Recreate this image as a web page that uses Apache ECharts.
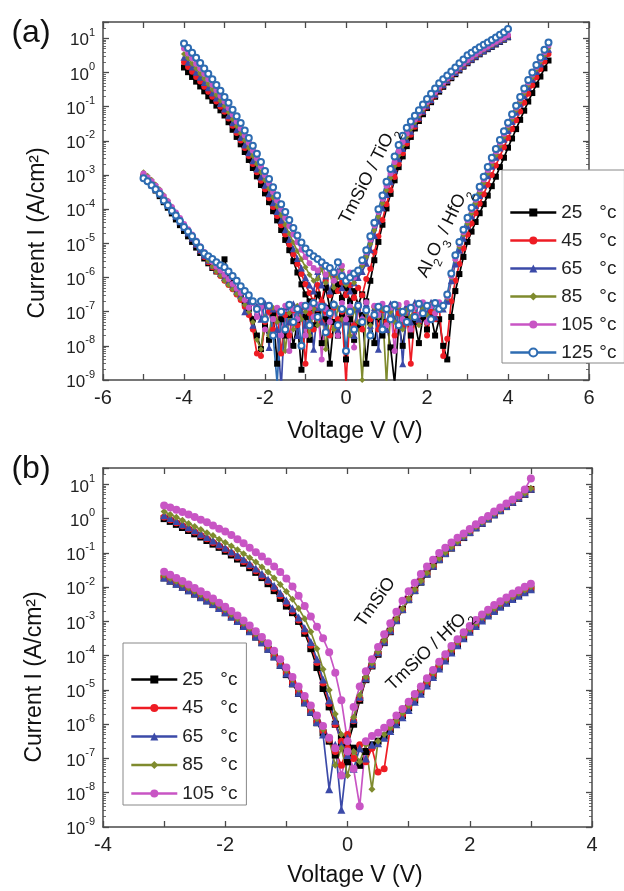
<!DOCTYPE html>
<html>
<head>
<meta charset="utf-8">
<script src="https://cdn.jsdelivr.net/npm/echarts@6/dist/echarts.min.js"></script>
<style>html,body{margin:0;padding:0;background:#fff;}#c{width:624px;height:891px;}</style>
</head>
<body>
<div id="c"></div>
<script>
// ---------- categories / legend ----------
const TEMPS = ['25 °c','45 °c','65 °c','85 °c','105 °c','125 °c'];
const X_TICKS_A = [-6,-4,-2,0,2,4,6];
const X_TICKS_B = [-4,-2,0,2,4];

// ---------- voltages ----------
const V_TI = [-4,-3.9,-3.8,-3.7,-3.6,-3.5,-3.4,-3.3,-3.2,-3.1,-3,-2.9,-2.8,-2.7,-2.6,-2.5,-2.4,-2.3,-2.2,-2.1,-2,-1.9,-1.8,-1.7,-1.6,-1.5,-1.4,-1.3,-1.2,-1.1,-1,-0.9,-0.8,-0.7,-0.6,-0.5,-0.4,-0.3,-0.2,-0.1,0,0.1,0.2,0.3,0.4,0.5,0.6,0.7,0.8,0.9,1,1.1,1.2,1.3,1.4,1.5,1.6,1.7,1.8,1.9,2,2.1,2.2,2.3,2.4,2.5,2.6,2.7,2.8,2.9,3,3.1,3.2,3.3,3.4,3.5,3.6,3.7,3.8,3.9,4];
const V_AH = [-5,-4.9,-4.8,-4.7,-4.6,-4.5,-4.4,-4.3,-4.2,-4.1,-4,-3.9,-3.8,-3.7,-3.6,-3.5,-3.4,-3.3,-3.2,-3.1,-3,-2.9,-2.8,-2.7,-2.6,-2.5,-2.4,-2.3,-2.2,-2.1,-2,-1.9,-1.8,-1.7,-1.6,-1.5,-1.4,-1.3,-1.2,-1.1,-1,-0.9,-0.8,-0.7,-0.6,-0.5,-0.4,-0.3,-0.2,-0.1,0,0.1,0.2,0.3,0.4,0.5,0.6,0.7,0.8,0.9,1,1.1,1.2,1.3,1.4,1.5,1.6,1.7,1.8,1.9,2,2.1,2.2,2.3,2.4,2.5,2.6,2.7,2.8,2.9,3,3.1,3.2,3.3,3.4,3.5,3.6,3.7,3.8,3.9,4,4.1,4.2,4.3,4.4,4.5,4.6,4.7,4.8,4.9,5];
const V_B = [-3,-2.9,-2.8,-2.7,-2.6,-2.5,-2.4,-2.3,-2.2,-2.1,-2,-1.9,-1.8,-1.7,-1.6,-1.5,-1.4,-1.3,-1.2,-1.1,-1,-0.9,-0.8,-0.7,-0.6,-0.5,-0.4,-0.3,-0.2,-0.1,0,0.1,0.2,0.3,0.4,0.5,0.6,0.7,0.8,0.9,1,1.1,1.2,1.3,1.4,1.5,1.6,1.7,1.8,1.9,2,2.1,2.2,2.3,2.4,2.5,2.6,2.7,2.8,2.9,3];

// ---------- panel (a): TmSiO / TiO2 (A/cm2) ----------
const TI_25 = [1.4,1.02,0.74,0.54,0.39,0.28,0.2,0.148,0.107,0.078,0.055,0.035,0.021,0.013,7.9e-3,4.7e-3,2.75e-3,1.6e-3,9.1e-4,5.1e-4,2.9e-4,1.6e-4,8.7e-5,4.7e-5,2.45e-5,1.26e-5,6.3e-6,3e-6,1.4e-6,6.3e-7,3.2e-7,2e-7,1.3e-7,3.2e-7,1.6e-7,5e-7,1.3e-7,4e-7,6.3e-7,2.5e-7,5e-7,2e-7,4e-7,1.6e-7,3.2e-7,2e-7,8e-7,3.2e-6,1.1e-5,3.5e-5,1.05e-4,2.8e-4,7e-4,1.7e-3,3.5e-3,7e-3,0.013,0.023,0.038,0.06,0.091,0.135,0.195,0.275,0.38,0.51,0.68,0.89,1.15,1.48,1.86,2.3,2.8,3.4,4.1,4.8,5.6,6.6,7.8,9.1,10.7];
const TI_45 = [2.0,1.45,1.05,0.74,0.54,0.38,0.275,0.195,0.141,0.1,0.071,0.045,0.0275,0.017,0.0102,6.2e-3,3.6e-3,2.1e-3,1.2e-3,6.8e-4,3.8e-4,2.1e-4,1.15e-4,6.3e-5,3.4e-5,1.8e-5,9.3e-6,4.8e-6,2.5e-6,1.26e-6,6.3e-7,3.5e-7,2e-7,6e-7,2e-7,8e-7,3e-7,1.2e-6,4e-7,7e-7,3e-7,6e-7,2.5e-7,5e-7,3e-7,9e-7,1.8e-6,5.5e-6,1.6e-5,4.8e-5,1.4e-4,3.6e-4,8.8e-4,2.1e-3,4.3e-3,8.3e-3,0.015,0.026,0.043,0.068,0.1,0.15,0.21,0.3,0.41,0.55,0.73,0.95,1.22,1.55,1.95,2.4,2.95,3.6,4.3,5.1,6,7,8.2,9.6,11.2];
const TI_65 = [2.8,2.0,1.45,1.02,0.72,0.51,0.36,0.25,0.178,0.123,0.085,0.054,0.034,0.021,0.0126,7.6e-3,4.5e-3,2.6e-3,1.5e-3,8.7e-4,5e-4,2.8e-4,1.55e-4,8.5e-5,4.7e-5,2.5e-5,1.3e-5,6.9e-6,3.6e-6,1.9e-6,1e-6,6e-7,4e-7,1.5e-6,6e-7,1.1e-6,4e-7,9e-7,1.6e-6,5e-7,8e-7,4e-7,7e-7,1e-6,1.5e-6,2.6e-6,6.5e-6,1.7e-5,4.5e-5,1.1e-4,2.7e-4,6.3e-4,1.4e-3,3e-3,6e-3,0.011,0.019,0.031,0.049,0.075,0.11,0.16,0.23,0.32,0.44,0.59,0.77,1.0,1.28,1.62,2.05,2.5,3.05,3.7,4.4,5.2,6.1,7.2,8.4,9.8,11.5];
const TI_85 = [3.5,2.6,1.8,1.3,0.91,0.65,0.45,0.32,0.22,0.15,0.105,0.068,0.043,0.027,0.0166,0.0102,6.2e-3,3.6e-3,2.1e-3,1.2e-3,7e-4,4e-4,2.2e-4,1.2e-4,6.6e-5,3.5e-5,1.9e-5,1.05e-5,5.9e-6,3.4e-6,2e-6,1.2e-6,8e-7,9e-7,1.8e-6,7e-7,1.3e-6,5e-7,1e-6,1.7e-6,6e-7,1.1e-6,7e-7,1.4e-6,2.2e-6,4e-6,9.5e-6,2.4e-5,6e-5,1.5e-4,3.6e-4,8.2e-4,1.8e-3,3.7e-3,7.2e-3,0.013,0.022,0.035,0.055,0.083,0.12,0.175,0.25,0.35,0.47,0.63,0.82,1.06,1.36,1.72,2.15,2.65,3.2,3.85,4.6,5.4,6.3,7.4,8.6,10,11.8];
const TI_105 = [5,3.6,2.6,1.8,1.3,0.91,0.63,0.44,0.3,0.21,0.141,0.091,0.059,0.037,0.023,0.0145,8.9e-3,5.2e-3,3.1e-3,1.8e-3,1e-3,5.6e-4,3.2e-4,1.8e-4,1e-4,5.6e-5,3.2e-5,1.8e-5,1.07e-5,6.5e-6,4e-6,2.6e-6,1.9e-6,1.6e-6,2.4e-6,1.2e-6,1.9e-6,8e-7,1.4e-6,2.2e-6,9e-7,1.4e-6,1e-6,1.6e-6,2.8e-6,5.5e-6,1.3e-5,3.3e-5,8.3e-5,2e-4,4.8e-4,1.1e-3,2.4e-3,4.9e-3,9.3e-3,0.0165,0.027,0.042,0.064,0.095,0.137,0.195,0.27,0.38,0.51,0.68,0.89,1.15,1.47,1.85,2.3,2.85,3.45,4.15,4.95,5.8,6.8,7.9,9.2,10.7,12.4];
const TI_125 = [7,5.2,3.8,2.7,1.9,1.3,0.91,0.63,0.43,0.29,0.19,0.13,0.081,0.052,0.033,0.02,0.012,7.2e-3,4.2e-3,2.4e-3,1.3e-3,7.6e-4,4.4e-4,2.5e-4,1.4e-4,8.3e-5,4.8e-5,2.8e-5,1.7e-5,1.05e-5,7e-6,5.2e-6,4.2e-6,3.5e-6,2.8e-6,2.2e-6,1.9e-6,1.4e-6,2.8e-6,1.1e-6,8e-7,1e-6,1.3e-6,1.6e-6,3.2e-6,6.3e-6,1.6e-5,4e-5,1e-4,2.5e-4,6.3e-4,1.5e-3,3.5e-3,7.6e-3,0.014,0.024,0.037,0.054,0.079,0.115,0.166,0.24,0.34,0.48,0.63,0.81,1.07,1.4,1.86,2.4,3.2,3.8,4.6,5.5,6.5,7.6,8.9,10.5,12.6,15,18.6];

// ---------- panel (a): Al2O3 / HfO2 (A/cm2) ----------
const AH_25 = [9e-4,7e-4,5e-4,3.5e-4,2.4e-4,1.6e-4,1.1e-4,7.5e-5,5e-5,3.4e-5,2.3e-5,1.6e-5,1.1e-5,7.5e-6,5.2e-6,3.6e-6,2.6e-6,1.9e-6,1.5e-6,2.2e-6,3.4e-6,1.2e-6,7e-7,4.5e-7,2.8e-7,1.8e-7,1.2e-7,6e-8,2e-8,8e-9,4e-8,1.5e-8,9e-8,3e-9,6e-8,2e-8,8e-8,1e-8,5e-8,2e-9,7e-8,1.5e-8,4e-8,9e-8,1.2e-8,6e-8,3e-9,5e-8,2e-8,8e-8,4e-9,6e-8,1.5e-8,4e-8,8e-8,3e-9,5e-8,1.2e-8,7e-8,2e-8,5e-8,9e-9,8e-10,4e-8,1e-8,6e-8,2e-8,5e-8,1.2e-8,7e-8,3e-8,8e-8,2e-8,6e-8,1e-8,4e-9,7e-8,4e-7,1.26e-6,4e-6,1.1e-5,2.2e-5,4.2e-5,7.6e-5,1.4e-4,2.5e-4,4.7e-4,8.9e-4,1.7e-3,3.2e-3,6.3e-3,0.0117,0.022,0.041,0.076,0.141,0.25,0.44,0.76,1.32,2.24];
const AH_45 = [1e-3,7.8e-4,5.8e-4,4.2e-4,3e-4,2e-4,1.4e-4,9.5e-5,6.5e-5,4.4e-5,3e-5,2e-5,1.35e-5,9e-6,6e-6,4e-6,2.8e-6,2e-6,1.5e-6,1.1e-6,8e-7,6e-7,4.5e-7,3.2e-7,2.2e-7,1.4e-7,8e-8,3e-8,6e-9,5e-9,5e-8,1e-7,3e-8,1.2e-7,6e-9,8e-8,2e-8,1.1e-7,4e-8,1.3e-7,3e-9,9e-8,3e-8,1.2e-7,5e-8,1e-7,2e-8,1.3e-7,6e-8,1e-7,8e-10,9e-8,4e-8,1.2e-7,3e-8,1e-7,6e-8,1.4e-7,3e-8,1.1e-7,5e-8,1.3e-7,2e-8,9e-8,4e-8,1.2e-7,3e-9,8e-8,5e-8,1.3e-7,2e-8,1e-7,6e-8,1.5e-7,5e-9,1.6e-8,2e-7,8e-7,2.5e-6,7e-6,1.8e-5,3.8e-5,7.6e-5,1.45e-4,2.75e-4,5.2e-4,1e-3,1.9e-3,3.5e-3,6.5e-3,0.012,0.022,0.04,0.072,0.13,0.24,0.42,0.72,1.26,2.1,3.5];
const AH_65 = [9e-4,7e-4,5.2e-4,3.9e-4,2.8e-4,1.9e-4,1.3e-4,9e-5,6.2e-5,4.3e-5,2.9e-5,2e-5,1.4e-5,9.5e-6,6.5e-6,4.5e-6,3.2e-6,2.3e-6,1.7e-6,1.3e-6,1e-6,7.5e-7,5.5e-7,4e-7,3e-7,1e-7,2e-7,4e-8,1.5e-7,6e-8,1.8e-7,9e-9,1.2e-7,3e-8,6e-10,1.4e-7,5e-8,1.7e-7,2e-8,1.1e-7,4e-8,1.6e-7,8e-9,1.3e-7,5e-8,1.5e-7,6e-8,1.8e-7,3e-8,1.4e-7,5e-8,1.6e-7,2e-8,1.2e-7,7e-8,1.7e-7,4e-8,1.3e-7,8e-9,1.5e-7,3e-8,1.7e-7,6e-8,1.4e-7,3e-9,1.6e-7,5e-8,1.9e-7,6e-8,1.5e-7,9e-8,1.9e-7,7e-8,1.6e-7,1.2e-7,2e-7,8e-7,2.5e-6,6.3e-6,1.4e-5,3.2e-5,6.3e-5,1.26e-4,2.5e-4,5e-4,9.5e-4,1.8e-3,3.3e-3,6.2e-3,0.0112,0.02,0.037,0.068,0.12,0.21,0.37,0.63,1.07,1.78,2.95,4.8];
const AH_85 = [1.2e-3,9.5e-4,7.2e-4,5.3e-4,3.8e-4,2.6e-4,1.8e-4,1.2e-4,8e-5,5.4e-5,3.6e-5,2.4e-5,1.6e-5,1.05e-5,7e-6,4.6e-6,3.1e-6,2.1e-6,1.5e-6,1.1e-6,8e-7,6e-7,4.5e-7,3.3e-7,2.4e-7,1.6e-7,1e-7,5e-8,1.5e-8,8e-9,7e-8,2e-8,1.3e-7,5e-8,1.1e-7,7e-9,9e-8,3e-8,1.5e-7,6e-8,1e-7,2e-8,1.2e-7,4e-8,1.4e-7,8e-9,1e-7,3e-8,1.3e-7,6e-8,1.1e-7,2e-8,1.2e-7,5e-8,1e-9,9e-8,4e-8,1.3e-7,7e-8,1.2e-7,8e-10,1e-7,5e-8,1.4e-7,3e-8,1.1e-7,7e-8,1.5e-7,4e-8,1.2e-7,8e-8,1.6e-7,1e-7,1.8e-7,1.3e-7,2.5e-7,1e-6,3.2e-6,8e-6,1.8e-5,3.8e-5,7.6e-5,1.5e-4,2.95e-4,5.8e-4,1.1e-3,2e-3,3.8e-3,7e-3,0.0129,0.0234,0.043,0.078,0.138,0.245,0.43,0.72,1.23,2.05,3.3,5.2];
const AH_105 = [1.1e-3,8.5e-4,6.5e-4,4.8e-4,3.5e-4,2.4e-4,1.7e-4,1.15e-4,8e-5,5.5e-5,3.7e-5,2.6e-5,1.8e-5,1.2e-5,8.2e-6,5.6e-6,4e-6,2.9e-6,2.1e-6,1.6e-6,1.2e-6,9e-7,6.5e-7,4.8e-7,3.5e-7,2.2e-7,1.3e-7,1.8e-7,7e-8,1.4e-7,3e-8,1.6e-7,6e-8,1.3e-7,2e-8,1.5e-7,7e-9,1.2e-7,6e-8,1.6e-7,2e-8,1.3e-7,7e-8,1.6e-7,4e-9,1.2e-7,5e-8,1.5e-7,2e-8,1.8e-7,6e-8,1.4e-7,9e-9,1.6e-7,6e-8,1.9e-7,2e-8,1.5e-7,8e-8,1.7e-7,4e-8,1.3e-7,7e-9,1.6e-7,6e-8,1.8e-7,3e-8,1.4e-7,8e-8,1.9e-7,5e-8,1.5e-7,9e-8,1.9e-7,1.5e-7,2.8e-7,1.1e-6,3.5e-6,9.5e-6,2.1e-5,4.7e-5,9.5e-5,1.9e-4,3.8e-4,7.4e-4,1.4e-3,2.6e-3,4.9e-3,8.9e-3,0.0162,0.0295,0.052,0.093,0.166,0.295,0.51,0.87,1.45,2.4,3.9,6.3];
const AH_125 = [8e-4,6.5e-4,5e-4,3.8e-4,2.8e-4,1.8e-4,1.3e-4,9e-5,6.5e-5,4.5e-5,3e-5,2.2e-5,1.6e-5,1.1e-5,7.5e-6,5e-6,4.2e-6,3.5e-6,2.8e-6,2.3e-6,2e-6,1.5e-6,1.1e-6,8e-7,5.5e-7,4e-7,3e-7,2e-7,1.2e-7,2e-7,6e-8,1.5e-7,2e-8,8e-10,1e-7,3e-8,1.6e-7,5e-8,1.2e-7,1e-8,1.5e-7,4e-8,1.8e-7,7e-8,1.4e-7,2.5e-8,9e-8,1.6e-7,4e-8,1.2e-7,7e-9,1e-7,3e-8,1.5e-7,5e-8,1.1e-7,2e-8,8e-8,1.4e-7,3e-8,1.2e-7,6e-8,1.6e-7,4e-8,1e-7,5e-8,1.3e-7,7e-8,1.7e-7,9e-8,1.5e-7,6e-8,1.8e-7,1.2e-7,1.5e-7,3.2e-7,1.3e-6,4.5e-6,1.1e-5,2.5e-5,5.6e-5,1.1e-4,2.2e-4,4.5e-4,8.9e-4,1.7e-3,3.2e-3,5.8e-3,0.0105,0.019,0.034,0.06,0.107,0.19,0.34,0.6,1.0,1.66,2.75,4.6,7.6];

// ---------- panel (b): TmSiO (upper) ----------
const UB_25 = [1.0,0.83,0.68,0.55,0.45,0.36,0.29,0.23,0.18,0.145,0.112,0.087,0.066,0.05,0.037,0.027,0.019,0.0126,7.9e-3,4.7e-3,2.8e-3,1.8e-3,1e-3,4.5e-4,1.6e-4,4.5e-5,1.1e-5,3.2e-6,1e-6,4e-7,2.5e-7,1e-6,5e-6,2e-5,5e-5,1.1e-4,2.4e-4,5e-4,1.05e-3,2.2e-3,4.3e-3,7.9e-3,0.014,0.024,0.04,0.063,0.095,0.138,0.2,0.28,0.39,0.54,0.72,0.98,1.29,1.7,2.24,2.95,3.9,5.1,7.1];
const UB_45 = [1.12,0.93,0.76,0.62,0.5,0.41,0.32,0.26,0.2,0.16,0.126,0.098,0.074,0.056,0.042,0.03,0.021,0.0145,9.3e-3,5.6e-3,3.4e-3,2e-3,1.1e-3,5.2e-4,2e-4,6.3e-5,1.6e-5,4e-6,1e-6,3.2e-7,5e-7,1.26e-6,5.6e-6,2.1e-5,5.2e-5,1.17e-4,2.5e-4,5.2e-4,1.1e-3,2.2e-3,4.4e-3,8.1e-3,0.0145,0.0245,0.041,0.065,0.098,0.141,0.2,0.29,0.4,0.55,0.74,1.0,1.32,1.74,2.3,3.0,4.0,5.2,7.2];
const UB_65 = [1.26,1.05,0.85,0.69,0.56,0.46,0.36,0.29,0.23,0.18,0.141,0.11,0.085,0.065,0.048,0.035,0.0245,0.0166,0.011,6.8e-3,4.1e-3,2.4e-3,1.3e-3,6.3e-4,2.5e-4,7.9e-5,2e-5,5e-6,1.26e-6,2.5e-7,4e-7,1.4e-6,6.3e-6,2.2e-5,5.6e-5,1.26e-4,2.6e-4,5.5e-4,1.1e-3,2.3e-3,4.5e-3,8.3e-3,0.0148,0.025,0.042,0.066,0.1,0.145,0.21,0.3,0.41,0.56,0.76,1.02,1.35,1.78,2.35,3.1,4.1,5.4,7.4];
const UB_85 = [1.6,1.32,1.1,0.89,0.72,0.59,0.48,0.39,0.32,0.25,0.2,0.16,0.123,0.095,0.072,0.054,0.039,0.0275,0.0186,0.012,7.4e-3,4.4e-3,2.4e-3,1.2e-3,5e-4,1.6e-4,4e-5,1e-5,2e-6,5e-7,3.2e-7,1.6e-6,7e-6,2.4e-5,6e-5,1.3e-4,2.75e-4,5.8e-4,1.17e-3,2.35e-3,4.6e-3,8.5e-3,0.015,0.026,0.043,0.068,0.102,0.148,0.21,0.3,0.42,0.58,0.78,1.05,1.38,1.82,2.4,3.2,4.2,5.5,7.6];
const UB_105 = [2.4,2.1,1.8,1.55,1.32,1.12,0.93,0.78,0.63,0.51,0.42,0.33,0.25,0.19,0.141,0.105,0.078,0.056,0.04,0.0275,0.0178,0.0105,5.6e-3,2.8e-3,1.4e-3,7e-4,3.2e-4,1.26e-4,3.2e-5,5e-6,3.2e-7,3.2e-6,1.26e-5,3.5e-5,7.9e-5,1.8e-4,4.2e-4,8.9e-4,1.9e-3,4e-3,7.6e-3,0.0135,0.024,0.04,0.063,0.1,0.141,0.2,0.275,0.37,0.5,0.68,0.91,1.2,1.6,2.1,2.75,3.6,4.8,7.1,14.8];

// ---------- panel (b): TmSiO / HfO2 (lower) ----------
const LB_25 = [0.0186,0.015,0.0123,0.01,7.9e-3,6.3e-3,5e-3,4e-3,3.1e-3,2.4e-3,1.8e-3,1.35e-3,1e-3,7.2e-4,5.1e-4,3.5e-4,2.4e-4,1.55e-4,9.3e-5,5.2e-5,2.8e-5,1.5e-5,7.9e-6,4.2e-6,2.2e-6,1.1e-6,5.6e-7,3.2e-7,1.26e-7,2.5e-7,8e-8,2e-7,6.3e-8,1.6e-7,2.5e-7,3.2e-7,4.5e-7,7e-7,1.1e-6,1.8e-6,3e-6,5e-6,8.7e-6,1.5e-5,2.6e-5,4.6e-5,7.9e-5,1.3e-4,2.1e-4,3.4e-4,5.2e-4,7.8e-4,1.1e-3,1.55e-3,2.1e-3,2.75e-3,3.5e-3,4.6e-3,5.8e-3,7.2e-3,8.9e-3];
const LB_45 = [0.02,0.016,0.013,0.0107,8.5e-3,6.8e-3,5.4e-3,4.3e-3,3.3e-3,2.6e-3,1.95e-3,1.45e-3,1.07e-3,7.8e-4,5.5e-4,3.8e-4,2.6e-4,1.66e-4,1e-4,5.6e-5,3.1e-5,1.66e-5,8.7e-6,4.6e-6,2.4e-6,1.2e-6,6.3e-7,3.5e-7,1.6e-7,6.3e-8,2e-7,1e-7,2.5e-7,8e-8,2e-7,4e-8,5e-8,7.9e-7,1.2e-6,1.9e-6,3.2e-6,5.4e-6,9.3e-6,1.6e-5,2.8e-5,4.9e-5,8.5e-5,1.4e-4,2.3e-4,3.6e-4,5.6e-4,8.3e-4,1.2e-3,1.66e-3,2.2e-3,2.95e-3,3.8e-3,4.9e-3,6.2e-3,7.8e-3,9.5e-3];
const LB_65 = [0.019,0.0155,0.0126,0.0102,8.1e-3,6.5e-3,5.1e-3,4.1e-3,3.2e-3,2.45e-3,1.86e-3,1.38e-3,1.02e-3,7.4e-4,5.2e-4,3.6e-4,2.45e-4,1.6e-4,9.5e-5,5.4e-5,3e-5,1.6e-5,8.3e-6,4.4e-6,2.3e-6,1.15e-6,5e-7,1.26e-8,2.5e-7,3.2e-9,1.26e-7,5e-8,2e-7,1e-7,2.5e-7,2.8e-7,4e-7,6.3e-7,1e-6,1.6e-6,2.6e-6,4.5e-6,7.8e-6,1.35e-5,2.4e-5,4.2e-5,7.2e-5,1.23e-4,2e-4,3.2e-4,5e-4,7.4e-4,1.07e-3,1.5e-3,2e-3,2.7e-3,3.5e-3,4.5e-3,5.6e-3,7.1e-3,8.7e-3];
const LB_85 = [0.0224,0.018,0.0148,0.012,9.5e-3,7.6e-3,6e-3,4.8e-3,3.7e-3,2.9e-3,2.2e-3,1.6e-3,1.2e-3,8.7e-4,6.2e-4,4.3e-4,2.9e-4,1.9e-4,1.17e-4,6.8e-5,3.7e-5,2e-5,1.05e-5,5.5e-6,2.9e-6,1.45e-6,7e-7,3.5e-7,6.3e-8,2e-7,3.2e-8,1.6e-7,8e-8,2.5e-7,1.26e-8,3.2e-7,5e-7,7.9e-7,1.26e-6,2.1e-6,3.5e-6,5.9e-6,1e-5,1.8e-5,3.1e-5,5.4e-5,9.1e-5,1.5e-4,2.45e-4,3.9e-4,6e-4,8.9e-4,1.3e-3,1.8e-3,2.4e-3,3.2e-3,4.1e-3,5.2e-3,6.6e-3,8.3e-3,0.0102];
const LB_105 = [0.028,0.023,0.0186,0.015,0.012,9.5e-3,7.6e-3,6e-3,4.7e-3,3.5e-3,2.7e-3,2e-3,1.5e-3,1.07e-3,7.6e-4,5.2e-4,3.5e-4,2.3e-4,1.4e-4,7.9e-5,4.5e-5,2.4e-5,1.26e-5,6.6e-6,3.5e-6,1.8e-6,8.9e-7,4e-7,2e-7,3.2e-8,1.6e-7,5e-8,4e-9,3.2e-7,4.5e-7,5.6e-7,7.9e-7,1.1e-6,1.8e-6,2.8e-6,4.5e-6,7.6e-6,1.26e-5,2.2e-5,3.8e-5,6.6e-5,1.1e-4,1.9e-4,3e-4,4.8e-4,7.4e-4,1.1e-3,1.6e-3,2.2e-3,3e-3,3.9e-3,5e-3,6.5e-3,8.1e-3,0.0102,0.0126];

// ---------- styling ----------
const COLORS = ['#000000','#ee1c24','#3b4aa8','#7f8b2e','#c855c4','#2e6cb2'];
const SYMBOLS = ['rect','circle','triangle','diamond','circle','emptyCircle'];
const FONT = '"Liberation Sans", Arial, Helvetica, sans-serif';
const AXIS_COLOR = '#4a4a4a';

const TI = [TI_25,TI_45,TI_65,TI_85,TI_105,TI_125];
const AH = [AH_25,AH_45,AH_65,AH_85,AH_105,AH_125];
const UB = [UB_25,UB_45,UB_65,UB_85,UB_105];
const LB = [LB_25,LB_45,LB_65,LB_85,LB_105];

function pairs(xs, ys) { return xs.map((v, k) => [v, ys[k]]); }
function mk(idx, xs, ys, xi, yi, size) {
  const empty = SYMBOLS[idx] === 'emptyCircle';
  return {
    type: 'line', name: TEMPS[idx], xAxisIndex: xi, yAxisIndex: yi,
    data: pairs(xs, ys), symbol: SYMBOLS[idx],
    symbolSize: SYMBOLS[idx] === 'triangle' ? size + 1 : size,
    showSymbol: true, showAllSymbol: true, animation: false, clip: true,
    color: COLORS[idx],
    lineStyle: { width: 1.7, color: COLORS[idx] },
    itemStyle: empty ? { color: COLORS[idx], borderColor: COLORS[idx], borderWidth: 2 }
                     : { color: COLORS[idx], borderWidth: 0 },
    emphasis: { disabled: true }
  };
}
const series = [];
for (let i = 0; i < 6; i++) {
  series.push(mk(i, V_AH, AH[i], 0, 0, 6));
  series.push(mk(i, V_TI, TI[i], 0, 0, 6));
}
for (let i = 0; i < 5; i++) {
  series.push(mk(i, V_B, LB[i], 2, 2, i === 4 ? 8 : 7));
  series.push(mk(i, V_B, UB[i], 2, 2, i === 4 ? 8 : 7));
}

function yLabel(v) {
  const e = Math.log10(v); const r = Math.round(e);
  if (Math.abs(e - r) > 1e-3) return '';
  return '{b|10}{s|' + r + '}';
}
const yRich = {
  b: { fontSize: 17, lineHeight: 22, verticalAlign: 'bottom', color: '#222', fontFamily: FONT },
  s: { fontSize: 11, lineHeight: 11, verticalAlign: 'top', color: '#222', fontFamily: FONT }
};
function xAx(grid, min, max, ticks, top) {
  return {
    type: 'value', gridIndex: grid, min: min, max: max, interval: 1,
    position: top ? 'top' : 'bottom',
    axisLine: { show: true, onZero: false, lineStyle: { color: AXIS_COLOR, width: 1.5 } },
    axisTick: { show: true, inside: true, length: 6, lineStyle: { color: AXIS_COLOR, width: 1.3 } },
    axisLabel: top ? { show: false } : {
      show: true, margin: 8, fontSize: 20, color: '#222', fontFamily: FONT,
      formatter: v => (ticks.indexOf(v) >= 0 ? String(v) : '')
    },
    splitLine: { show: false }
  };
}
function yAx(grid, right) {
  return {
    type: 'log', logBase: 10, gridIndex: grid, min: 1e-9, max: 30,
    interval: 1, splitNumber: 10,
    position: right ? 'right' : 'left',
    axisLine: { show: true, onZero: false, lineStyle: { color: AXIS_COLOR, width: 1.5 } },
    axisTick: { show: true, inside: true, length: 6, lineStyle: { color: AXIS_COLOR, width: 1.3 } },
    minorTick: { show: true, splitNumber: 9, length: 3, lineStyle: { color: AXIS_COLOR, width: 0.8 } },
    axisLabel: right ? { show: false } : {
      show: true, margin: 8, formatter: yLabel, rich: yRich, interval: 0, hideOverlap: false
    },
    splitLine: { show: false }, minorSplitLine: { show: false }
  };
}
function legendFmt(name) {
  const p = name.split(' ');
  return '{n|' + p[0] + '}{u|' + p[1] + '}';
}
const legRich = {
  n: { fontSize: 19, width: 38, lineHeight: 20, color: '#222', fontFamily: FONT },
  u: { fontSize: 19, lineHeight: 20, color: '#222', fontFamily: FONT }
};
function txt(x, y, text, size, rot, rich) {
  return {
    type: 'text', x: x, y: y, rotation: rot || 0, silent: true, z: 50,
    style: { text: text, fontSize: size, fontFamily: FONT, fill: '#111', align: 'center', verticalAlign: 'middle', rich: rich }
  };
}
const subRich = {
  n: { fontSize: 18, lineHeight: 24, verticalAlign: 'top', fill: '#111', fontFamily: FONT },
  s: { fontSize: 12, lineHeight: 12, verticalAlign: 'bottom', fill: '#111', fontFamily: FONT }
};

const option = {
  backgroundColor: '#fff',
  animation: false,
  textStyle: { fontFamily: FONT },
  grid: [
    { left: 103, top: 22, width: 486, height: 358, containLabel: false },
    { left: 103, top: 468, width: 489, height: 359, containLabel: false }
  ],
  xAxis: [xAx(0, -6, 6, X_TICKS_A, false), xAx(0, -6, 6, X_TICKS_A, true),
          xAx(1, -4, 4, X_TICKS_B, false), xAx(1, -4, 4, X_TICKS_B, true)],
  yAxis: [yAx(0, false), yAx(0, true), yAx(1, false), yAx(1, true)],
  legend: [
    { data: TEMPS, orient: 'vertical', left: 502, top: 170, padding: [33, 8, 1, 7],
      itemWidth: 46, itemHeight: 10, itemGap: 9, backgroundColor: '#fff',
      borderColor: '#888', borderWidth: 1, formatter: legendFmt,
      textStyle: { fontSize: 19, rich: legRich }, lineStyle: { width: 2.6 }, selectedMode: false },
    { data: TEMPS.slice(0, 5), orient: 'vertical', left: 123, top: 643, padding: [27, 9, 2, 7],
      itemWidth: 46, itemHeight: 10, itemGap: 9.5, backgroundColor: '#fff',
      borderColor: '#888', borderWidth: 1, formatter: legendFmt,
      textStyle: { fontSize: 19, rich: legRich }, lineStyle: { width: 2.6 }, selectedMode: false }
  ],
  graphic: [
    txt(31, 33, '(a)', 32),
    txt(31, 469, '(b)', 32),
    txt(355, 432, 'Voltage V (V)', 23),
    txt(355, 876, 'Voltage V (V)', 23),
    txt(38, 233, 'Current I (A/cm²)', 23, Math.PI / 2),
    txt(35, 677, 'Current I (A/cm²)', 23, Math.PI / 2),
    txt(371, 177, '{n|TmSiO / TiO}{s|2}', 18, 1.096, subRich),
    txt(446, 234, '{n|Al}{s|2}{n|O}{s|3}{n| / HfO}{s|2}', 18, 1.117, subRich),
    txt(378, 604, '{n|TmSiO}', 18, 0.96, subRich),
    txt(431, 652, '{n|TmSiO / HfO}{s|2}', 18, 0.76, subRich)
  ],
  series: series
};
const chart = echarts.init(document.getElementById('c'), null, { renderer: 'canvas' });
chart.setOption(option);
</script>
</body>
</html>
